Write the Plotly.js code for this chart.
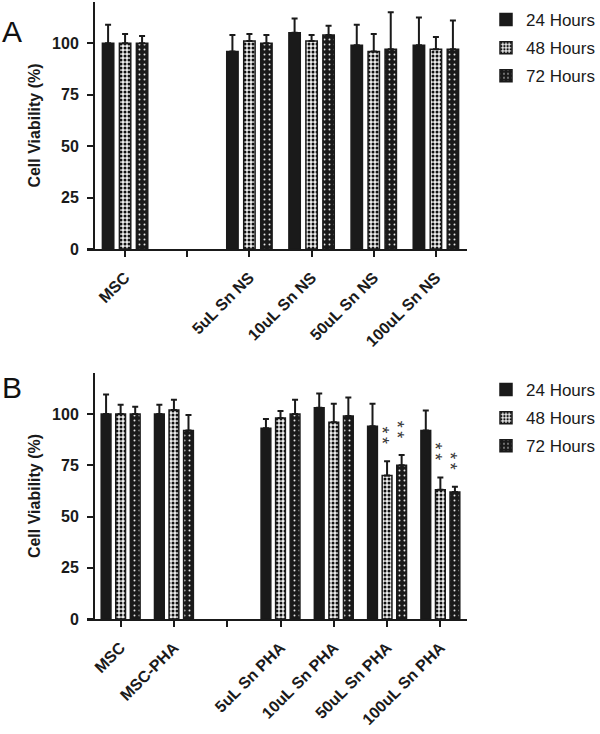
<!DOCTYPE html>
<html>
<head>
<meta charset="utf-8">
<script src="https://cdn.plot.ly/plotly-3.0.1.min.js"></script>
<style>html,body{margin:0;padding:0;background:#fff;}#chart{width:600px;height:734px;}</style>
</head>
<body>
<div id="chart"></div>
<script>
// ---------- Data ----------
const seriesNames = ['24 Hours', '48 Hours', '72 Hours'];

// Panel A
const categoriesA = ['MSC', '', '5uL Sn NS', '10uL Sn NS', '50uL Sn NS', '100uL Sn NS'];
const h24A = [100, null, 96, 105, 99, 99];
const h48A = [100, null, 101, 101, 96, 97];
const h72A = [100, null, 100, 104, 97, 97];
const e24A = [9, null, 8, 7, 10, 13.5];
const e48A = [4.5, null, 3.5, 3, 8.5, 6];
const e72A = [3.5, null, 4, 4.5, 18, 14];

// Panel B
const categoriesB = ['MSC', 'MSC-PHA', '', '5uL Sn PHA', '10uL Sn PHA', '50uL Sn PHA', '100uL Sn PHA'];
const h24B = [100, 100, null, 93, 103, 94, 92];
const h48B = [100, 102, null, 98, 96, 70, 63];
const h72B = [100, 92, null, 100, 99, 75, 62];
const e24B = [9.5, 4.5, null, 4.6, 7, 11, 9.7];
const e48B = [4.5, 5, null, 3.5, 9, 7, 6];
const e72B = [3.5, 7.5, null, 7, 9, 5, 2.5];
const sig48B = ['', '', '', '', '', '**', '**'];
const sig72B = ['', '', '', '', '', '**', '**'];

const yTicks = [0, 25, 50, 75, 100];

// ---------- Styles ----------
const INK = '#1a1a1a';
const FONT = 'Liberation Sans, Arial, Helvetica, sans-serif';
const bargap = 0.18, bargroupgap = 0.33;
const styles = [
  {color: INK, pattern: {shape: ''}},
  {color: '#ffffff', pattern: {shape: '.', fgcolor: '#111', bgcolor: '#ececec', size: 4, solidity: 0.45, fillmode: 'replace'}},
  {color: INK, pattern: {shape: '.', fgcolor: '#e6e6e6', bgcolor: INK, size: 5, solidity: 0.12, fillmode: 'replace'}}
];

function idx(arr) { return arr.map((_, i) => i); }

function barTrace(vals, errs, s, xa, ya, legend) {
  return {
    type: 'bar', name: seriesNames[s], x: idx(vals), y: vals,
    xaxis: xa, yaxis: ya, legend: legend, showlegend: true,
    legendgroup: legend + s,
    marker: {color: styles[s].color, pattern: styles[s].pattern, line: {color: INK, width: 1.5}},
    error_y: {type: 'data', symmetric: false, array: errs, arrayminus: errs.map(v => v === null ? null : 0),
              color: INK, thickness: 2, width: 3},
    hoverinfo: 'x+y'
  };
}

const traces = [
  barTrace(h24A, e24A, 0, 'x', 'y', 'legend'),
  barTrace(h48A, e48A, 1, 'x', 'y', 'legend'),
  barTrace(h72A, e72A, 2, 'x', 'y', 'legend'),
  barTrace(h24B, e24B, 0, 'x2', 'y2', 'legend2'),
  barTrace(h48B, e48B, 1, 'x2', 'y2', 'legend2'),
  barTrace(h72B, e72B, 2, 'x2', 'y2', 'legend2')
];

// significance asterisks (stacked vertically) above 48h / 72h bars in panel B
const slot = (1 - bargap) / 3;
const sigAnnotations = [];
[[sig48B, h48B, e48B, 1], [sig72B, h72B, e72B, 2]].forEach(([sig, h, e, s]) => {
  sig.forEach((t, i) => {
    if (!t) return;
    sigAnnotations.push({
      text: t.split('').join('\u2009'), xref: 'x2', yref: 'y2',
      x: i + (s - 1) * slot, y: h[i] + e[i] + 12.5,
      textangle: 90, xshift: -5, showarrow: false,
      font: {family: FONT, size: 18, color: '#3a3a3a'}
    });
  });
});

// ---------- Layout ----------
const W = 600, H = 734;
const axL = 94, axR = 467, over = 7;
function xRange(n) {
  const pxPer = (axR - axL) / n;
  return [-0.5 - over / pxPer, n - 0.5];
}
function xAxis(cats, yref) {
  return {
    domain: [(axL - over) / W, axR / W], anchor: yref, range: xRange(cats.length),
    tickmode: 'array', tickvals: idx(cats), ticktext: cats, tickangle: -45,
    ticks: 'outside', ticklen: 6, tickwidth: 2, tickcolor: INK, ticklabelstandoff: 5,
    showline: true, linewidth: 2, linecolor: INK, showgrid: false, zeroline: false,
    tickfont: {family: FONT, size: 16, weight: 700, color: INK}, automargin: false, fixedrange: true
  };
}
function yAxis(top, bottom) {
  return {
    domain: [1 - bottom / H, 1 - top / H], anchor: 'free', position: axL / W,
    range: [0, 120], tickmode: 'array', tickvals: yTicks,
    ticks: 'outside', ticklen: 6, tickwidth: 2, tickcolor: INK, ticklabelstandoff: 5,
    showline: true, linewidth: 2, linecolor: INK, showgrid: false, zeroline: false,
    tickfont: {family: FONT, size: 16, weight: 700, color: INK},
    title: {text: 'Cell Viability (%)', font: {family: FONT, size: 16, weight: 700, color: INK}, standoff: 6},
    automargin: false, fixedrange: true
  };
}
function legendAt(topPx) {
  return {x: 486 / W, y: 1 - topPx / H, xanchor: 'left', yanchor: 'top',
    font: {family: FONT, size: 17, color: INK}, bgcolor: 'rgba(0,0,0,0)',
    traceorder: 'grouped', tracegroupgap: 3, itemclick: false, itemdoubleclick: false};
}

const layout = {
  width: W, height: H, margin: {l: 0, r: 0, t: 0, b: 0},
  paper_bgcolor: '#fff', plot_bgcolor: '#fff',
  barmode: 'group', bargap: bargap, bargroupgap: bargroupgap,
  font: {family: FONT, color: INK},
  xaxis: xAxis(categoriesA, 'y'),
  yaxis: yAxis(2, 249),
  xaxis2: xAxis(categoriesB, 'y2'),
  yaxis2: yAxis(373, 619),
  legend: legendAt(2),
  legend2: legendAt(372),
  annotations: [
    {text: 'A', xref: 'paper', yref: 'paper', x: 0, y: 1 - 13 / H, xanchor: 'left', yanchor: 'top',
     showarrow: false, font: {family: FONT, size: 30, color: '#111'}},
    {text: 'B', xref: 'paper', yref: 'paper', x: 0, y: 1 - 369 / H, xanchor: 'left', yanchor: 'top',
     showarrow: false, font: {family: FONT, size: 30, color: '#111'}}
  ].concat(sigAnnotations)
};

Plotly.newPlot('chart', traces, layout, {displayModeBar: false, staticPlot: true});
</script>
</body>
</html>
